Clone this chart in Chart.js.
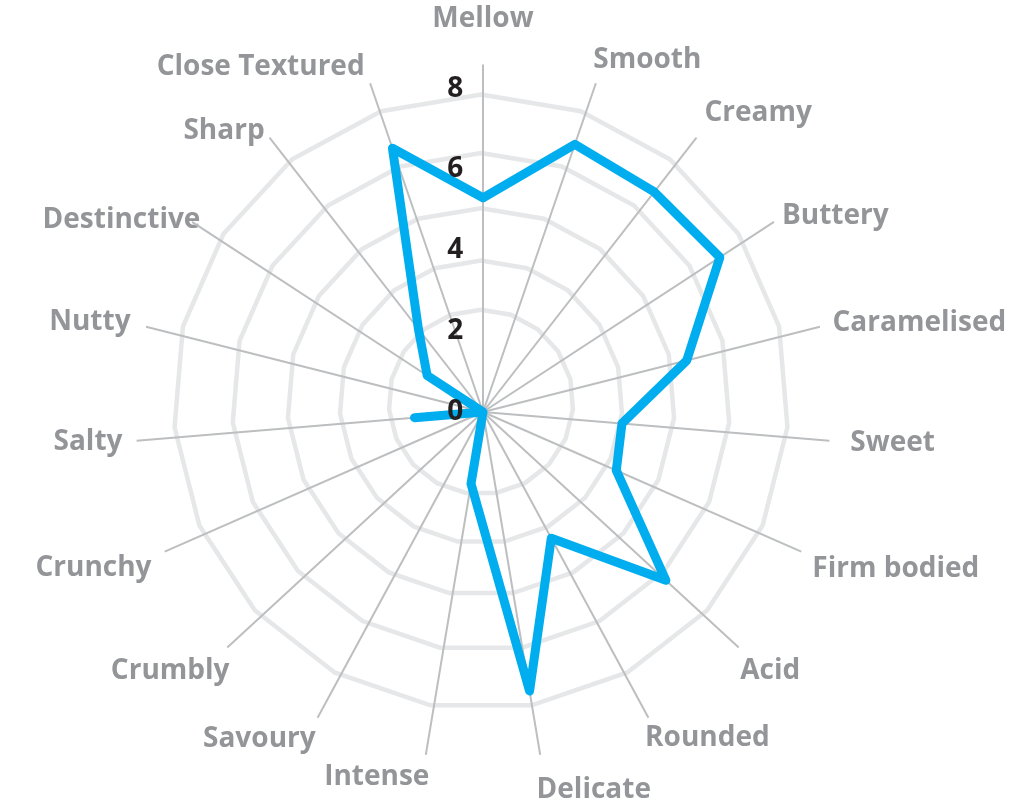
<!DOCTYPE html>
<html>
<head>
<meta charset="utf-8">
<script src="https://cdn.jsdelivr.net/npm/chart.js@4.4.1/dist/chart.umd.min.js"></script>
<style>
  html, body { margin: 0; padding: 0; background: #ffffff; overflow: hidden; }
  #wrap { width: 1012px; height: 802px; position: relative; overflow: hidden; }
  #c { position: absolute; left: -100px; top: -100px; }
</style>
</head>
<body>
<div id="wrap"><canvas id="c" width="1212" height="1002"></canvas></div>
<script>
// ---- data ----
const categories = ['Mellow', 'Smooth', 'Creamy', 'Buttery', 'Caramelised', 'Sweet', 'Firm bodied', 'Acid',
  'Rounded', 'Delicate', 'Intense', 'Savoury', 'Crumbly', 'Crunchy', 'Salty', 'Nutty', 'Destinctive', 'Sharp',
  'Close Textured'];
const flavourScores = [5.3, 7.0, 6.9, 7.0, 5.2, 3.45, 3.6, 6.15, 3.55, 7.0, 1.8, 0, 0, 0, 1.7, 0, 1.65, 2.6, 6.9];
const tickValues = [0, 2, 4, 6, 8];
const scaleMin = -0.001;
const scaleMax = 8.6;
const ringLevels = [0.30, 0.46, 0.63, 0.81, 1];

// ---- layout / style settings ----
const labelPadding = [15, -24, -3, -6.5, -3, 5, -4, -14, -23, -38, -38, -12, -19, -1.6, -1.8, 0, -26, -8, 1];
const labelLineHeight = [1, 2.19, 1.0, 0.02, 0.04, 0.02, 0.91, 1.6, 1.9, 4.03, 3.17, 1.31, 1.86, 0.77, 0.02, 0.02, 0.56, 0.02, 0.02];
const canvasOffset = 100;
const target = { x: 483 + canvasOffset, y: 412 + canvasOffset, r: 347 };
const ringShiftX = -2, ringShiftY = -10, ringRatio = 307 / 347;

const ringOffset = {
  id: 'ringOffset',
  afterLayout(chart) {
    const r = chart.scales.r, g = chart.scales.rGrid;
    if (!r || !g) return;
    g.xCenter = r.xCenter + ringShiftX;
    g.yCenter = r.yCenter + ringShiftY;
    g.drawingArea = r.drawingArea * ringRatio;
  }
};

const pad = { left: 100, right: 100, top: 76, bottom: 76 };

const chart = new Chart(document.getElementById('c').getContext('2d'), {
  type: 'radar',
  data: {
    labels: categories,
    datasets: [{
      label: 'Flavour profile',
      data: flavourScores,
      rAxisID: 'r',
      borderColor: '#00aeef',
      borderWidth: 9,
      borderJoinStyle: 'round',
      borderCapStyle: 'round',
      backgroundColor: 'rgba(0,0,0,0)',
      fill: false,
      pointRadius: 0,
      pointHoverRadius: 0,
      tension: 0
    }]
  },
  options: {
    responsive: false,
    animation: false,
    events: [],
    layout: { padding: Object.assign({}, pad) },
    plugins: { legend: { display: false }, tooltip: { enabled: false } },
    scales: {
      r: {
        min: scaleMin,
        max: scaleMax,
        afterBuildTicks: (s) => { s.ticks = tickValues.map(v => ({ value: v })); },
        grid: { display: false },
        angleLines: { color: '#bcbec0', lineWidth: 2 },
        ticks: {
          z: 1,
          color: '#231f20',
          font: { family: 'Open Sans', size: 28, weight: 'bold' },
          showLabelBackdrop: false,
          backdropPadding: 2,
          callback: (v) => String(v) + '\u2007\u2007\u2007 '
        },
        pointLabels: {
          color: '#939598',
          font: (ctx) => ({ family: 'Open Sans', size: 28, weight: 'bold', lineHeight: labelLineHeight[ctx.index] }),
          padding: (ctx) => labelPadding[ctx.index]
        }
      },
      rGrid: {
        type: 'radialLinear',
        axis: 'r',
        min: 0,
        max: 1,
        afterBuildTicks: (s) => { s.ticks = [0].concat(ringLevels).map(v => ({ value: v })); },
        grid: { color: '#e6e7e8', lineWidth: 4.5, z: -2 },
        angleLines: { display: false },
        ticks: { display: false },
        pointLabels: { display: false }
      }
    }
  },
  plugins: [ringOffset]
});

// fit the plot so its centre and radius match the reference
for (let k = 0; k < 15; k++) {
  const s = chart.scales.r;
  const ex = target.x - s.xCenter, ey = target.y - s.yCenter, er = target.r - s.drawingArea;
  if (Math.abs(ex) < 1 && Math.abs(ey) < 1 && Math.abs(er) < 0.6) break;
  pad.left += ex - er; pad.right += -ex - er; pad.top += ey - er; pad.bottom += -ey - er;
  chart.options.layout.padding = Object.assign({}, pad);
  chart.update('none');
}
</script>
</body>
</html>
